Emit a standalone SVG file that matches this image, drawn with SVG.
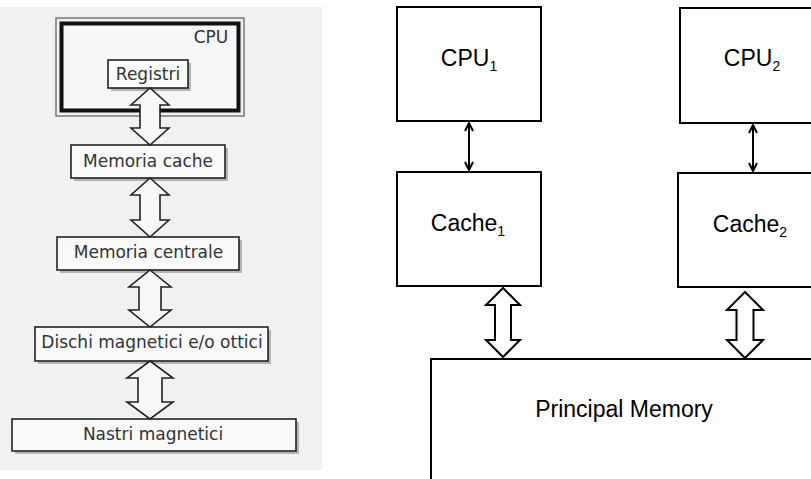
<svg xmlns="http://www.w3.org/2000/svg" width="811" height="479" viewBox="0 0 811 479">
<style>
.scan{font-family:"DejaVu Sans","Liberation Sans",sans-serif;font-size:17px;fill:#333;text-anchor:middle}
.sbox{fill:#f9f9f9;stroke:#222;stroke-width:1.6}
.shadow{fill:#9a9a9a;opacity:.7}
.barrowL{fill:#f7f7f7;stroke:#222;stroke-width:1.6;stroke-linejoin:miter}
.box{fill:#fff;stroke:#000;stroke-width:2}
.lbl{font-family:"Liberation Sans",Arial,sans-serif;font-size:23px;fill:#000;text-anchor:middle}
.sub{font-size:14px}
.barrowR{fill:#fff;stroke:#000;stroke-width:2;stroke-linejoin:miter}
.thin{stroke:#000;stroke-width:2;fill:none}
</style>
<defs>
<marker id="head" viewBox="0 0 10 10" refX="9" refY="5" markerWidth="10" markerHeight="10" markerUnits="userSpaceOnUse" orient="auto-start-reverse">
<path d="M1,1 L9,5 L1,9" fill="none" stroke="#000" stroke-width="2"/>
</marker>
</defs>

<rect x="0" y="7" width="322" height="463" fill="#f1f1f1"/>

<g id="cpu-left">
<rect x="56" y="18" width="188" height="98" fill="none" stroke="#777" stroke-width="1.5"/>
<rect x="61.5" y="23.5" width="177" height="87" fill="#f6f6f6" stroke="#111" stroke-width="4"/>
<text class="scan" x="211" y="43" font-size="16">CPU</text>
</g>
<g id="registri">
<rect class="shadow" x="111" y="63" width="80" height="28"/>
<rect class="sbox" x="108" y="60" width="80" height="28"/>
<text class="scan" x="148" y="80">Registri</text>
</g>
<g id="memoria-cache">
<rect class="shadow" x="74" y="148" width="154" height="33"/>
<rect class="sbox" x="71" y="145" width="154" height="33"/>
<text class="scan" x="148" y="167">Memoria cache</text>
</g>
<g id="memoria-centrale">
<rect class="shadow" x="60" y="240" width="182" height="33"/>
<rect class="sbox" x="57" y="237" width="182" height="33"/>
<text class="scan" x="148.5" y="258">Memoria centrale</text>
</g>
<g id="dischi">
<rect class="shadow" x="38" y="330" width="233" height="34"/>
<rect class="sbox" x="35" y="327" width="233" height="34"/>
<text class="scan" x="152" y="348">Dischi magnetici e/o ottici</text>
</g>
<g id="nastri">
<rect class="shadow" x="15" y="422" width="284" height="32"/>
<rect class="sbox" x="12" y="419" width="284" height="32"/>
<text class="scan" x="153" y="440">Nastri magnetici</text>
</g>

<g id="cpu1">
<rect class="box" x="397" y="7" width="144" height="114"/>
<text class="lbl" x="469" y="66">CPU<tspan class="sub" dy="5">1</tspan></text>
</g>
<g id="cache1">
<rect class="box" x="397" y="172" width="144" height="114"/>
<text class="lbl" x="468" y="231">Cache<tspan class="sub" dy="5">1</tspan></text>
</g>
<g id="cpu2">
<rect class="box" x="680" y="8" width="144" height="115"/>
<text class="lbl" x="752" y="66">CPU<tspan class="sub" dy="5">2</tspan></text>
</g>
<g id="cache2">
<rect class="box" x="678" y="173" width="144" height="114"/>
<text class="lbl" x="750" y="232">Cache<tspan class="sub" dy="5">2</tspan></text>
</g>
<g id="principal-memory">
<rect class="box" x="431" y="359" width="400" height="140"/>
<text class="lbl" x="624" y="417">Principal Memory</text>
</g>

<g id="connectors">
<polygon class="barrowL" points="150,88 169,105 160,105 160,128 169,128 150,145 131,128 140,128 140,105 131,105"/>
<polygon class="barrowL" points="150,178 169,195 160,195 160,220 169,220 150,237 131,220 140,220 140,195 131,195"/>
<polygon class="barrowL" points="150,270 171,287 161,287 161,310 171,310 150,327 129,310 139,310 139,287 129,287"/>
<polygon class="barrowL" points="150,361 173,378 162,378 162,402 173,402 150,419 127,402 138,402 138,378 127,378"/>
<line class="thin" x1="469" y1="123" x2="469" y2="170" marker-start="url(#head)" marker-end="url(#head)"/>
<line class="thin" x1="753" y1="125" x2="753" y2="171" marker-start="url(#head)" marker-end="url(#head)"/>
<polygon class="barrowR" points="503,288 520,305 511,305 511,340 520,340 503,357 486,340 495,340 495,305 486,305"/>
<polygon class="barrowR" points="745,292 763,310 753.5,310 753.5,340 763,340 745,358 727,340 736.5,340 736.5,310 727,310"/>
</g>
</svg>
